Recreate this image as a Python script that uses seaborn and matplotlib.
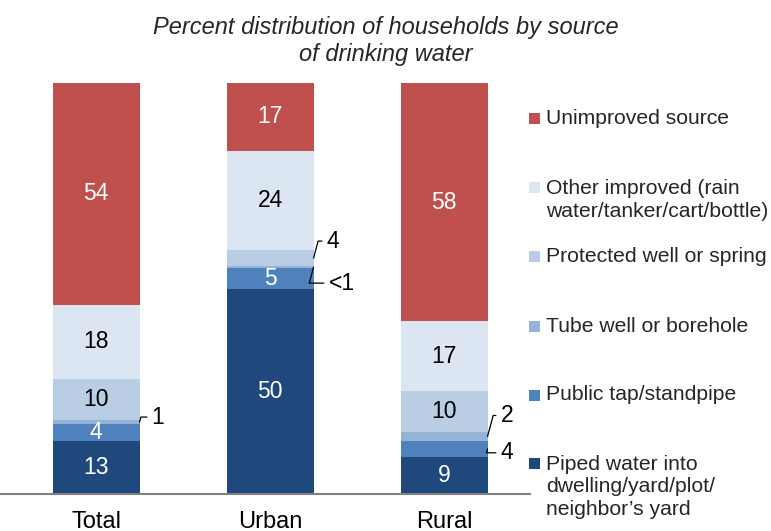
import matplotlib
matplotlib.use("Agg")
import matplotlib.pyplot as plt
from matplotlib.patches import Rectangle
import numpy as np
import pandas as pd
import seaborn as sns

# ---------------- data ----------------
categories = ["Total", "Urban", "Rural"]
sources = [
    "Piped water into\ndwelling/yard/plot/\nneighbor\u2019s yard",
    "Public tap/standpipe",
    "Tube well or borehole",
    "Protected well or spring",
    "Other improved (rain\nwater/tanker/cart/bottle)",
    "Unimproved source",
]
piped = [13, 50, 9]
public_tap = [4, 5, 4]
tube_well = [1, 0.4, 2]
protected = [10, 4, 10]
other_improved = [18, 24, 17]
unimproved = [54, 17, 58]

piped_labels = ["13", "50", "9"]
public_tap_labels = ["4", "5", "4"]
tube_well_labels = ["1", "<1", "2"]
protected_labels = ["10", "4", "10"]
other_improved_labels = ["18", "24", "17"]
unimproved_labels = ["54", "17", "58"]

colors = ["#1F497D", "#4F81BD", "#95B3D7", "#B9CDE5", "#DCE6F2", "#C0504D"]
text_colors = ["white", "white", "black", "black", "black", "white"]

series = [piped, public_tap, tube_well, protected, other_improved, unimproved]
labels = [piped_labels, public_tap_labels, tube_well_labels, protected_labels,
          other_improved_labels, unimproved_labels]

# callouts: (series index, category index) -> text offset in pixels
callouts = {
    (2, 0): (12, 5),
    (3, 1): (13, 17),
    (2, 1): (15, -16),
    (2, 2): (13, 21),
    (1, 2): (13, -4),
}

# ---------------- style ----------------
sns.set_theme(style="white")
plt.rcParams["font.family"] = ["Liberation Sans", "DejaVu Sans"]

W, H = 771, 531
fig = plt.figure(figsize=(W / 100, H / 100), dpi=100)
ax = fig.add_axes([0, 37 / H, 530 / W, 411 / H])

vals = np.array(series, dtype=float)  # shape (6, 3)
cum = np.cumsum(vals, axis=0)
bottoms = cum - vals

# draw cumulative bars from top segment down so smaller ones overlay
for k in range(len(series) - 1, -1, -1):
    df = pd.DataFrame({"cat": categories, "val": cum[k]})
    sns.barplot(data=df, x="cat", y="val", order=categories, color=colors[k],
                saturation=1, width=0.5, errorbar=None, linewidth=0, ax=ax)

# value labels
for k in range(len(series)):
    for i in range(len(categories)):
        mid = bottoms[k, i] + vals[k, i] / 2
        if (k, i) in callouts:
            dx, dy = callouts[(k, i)]
            ax.annotate(labels[k][i], xy=(i + 0.25, mid), xytext=(dx, dy),
                        textcoords="offset pixels", ha="left", va="center",
                        fontsize=16.5, color="black",
                        arrowprops=dict(arrowstyle="-", color="black", lw=0.9,
                                        shrinkA=1, shrinkB=0, relpos=(0, 0.5),
                                        connectionstyle="angle,angleA=0,angleB=75,rad=0"))
        else:
            ax.text(i, mid, labels[k][i], ha="center", va="center",
                    fontsize=16.5, color=text_colors[k])

ax.set_xlim(-0.552, 2.494)
ax.set_ylim(0, 100)
ax.set_xlabel("")
ax.set_ylabel("")
ax.set_yticks([])
for s in ["left", "top", "right"]:
    ax.spines[s].set_visible(False)
ax.spines["bottom"].set_color("#808080")
ax.spines["bottom"].set_linewidth(1.5)
ax.tick_params(axis="x", length=0, pad=12, labelsize=17, labelcolor="black")
ax.set_facecolor("white")

# title
fig.text(0.5, 1 - 41 / H, "Percent distribution of households by source\nof drinking water",
         ha="center", va="center", fontsize=17, style="italic", linespacing=1.2)

# manual legend (top to bottom)
legend_y = [118, 188, 257, 326, 395, 463]
order = [5, 4, 3, 2, 1, 0]
for y, k in zip(legend_y, order):
    fig.add_artist(Rectangle((529 / W, 1 - (y + 5.5) / H), 11 / W, 11 / H,
                             transform=fig.transFigure, color=colors[k], lw=0))
    nlines = sources[k].count("\n") + 1
    yc = y + (nlines - 1) * 24 / 2
    fig.text(546 / W, 1 - yc / H, sources[k], ha="left", va="center",
             fontsize=15.2, linespacing=1.25)

fig.savefig("out.png", dpi=100)
